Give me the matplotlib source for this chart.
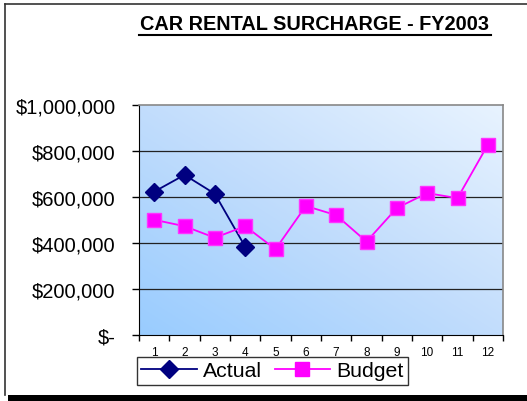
import numpy as np
import matplotlib
matplotlib.use("Agg")
import matplotlib.pyplot as plt
from matplotlib.colors import LinearSegmentedColormap
from matplotlib.patches import Rectangle
from matplotlib.lines import Line2D
from matplotlib.ticker import FuncFormatter, FixedLocator

plt.rcParams['font.family'] = ['Liberation Sans', 'DejaVu Sans']

title = "CAR RENTAL SURCHARGE - FY2003"
months = [1, 2, 3, 4, 5, 6, 7, 8, 9, 10, 11, 12]
actual = [623000, 696000, 614000, 384000]
budget = [501000, 473000, 423000, 473000, 373000, 561000, 521000, 406000,
          552000, 617000, 595000, 827000]
yticks = [0, 200000, 400000, 600000, 800000, 1000000]

W, H = 527, 402
fig = plt.figure(figsize=(W / 100, H / 100), dpi=100)
fig.patch.set_facecolor('white')

ax = fig.add_axes([139 / W, 1 - 336 / H, (503 - 139) / W, (336 - 106) / H])

# gradient background
nx, ny = 200, 200
xs = np.linspace(0, 1, nx)
ys = np.linspace(0, 1, ny)
X, Y = np.meshgrid(xs, ys)
G = (X + Y) / 2
cmap = LinearSegmentedColormap.from_list('g', ['#99ccff', '#c2ddfc', '#e8f3ff'])
ax.imshow(G, cmap=cmap, extent=[0.5, 12.5, 0, 1000000], origin='lower',
          aspect='auto', zorder=0, interpolation='bilinear')

ax.set_xlim(0.5, 12.5)
ax.set_ylim(0, 1000000)

for v in yticks[1:-1]:
    ax.axhline(v, color='#222222', lw=0.9, zorder=1)

ax.plot(months[:len(actual)], actual, color='#000080', lw=1.3, marker='D',
        markersize=9, markerfacecolor='#000080', markeredgecolor='#000080',
        zorder=3, clip_on=False)
ax.plot(months, budget, color='#ff00ff', lw=1.3, marker='s',
        markersize=10.5, markerfacecolor='#ff00ff', markeredgecolor='#ff33ff',
        zorder=4, clip_on=False)

ax.yaxis.set_major_locator(FixedLocator(yticks))
def fmt(v, p):
    if v == 0:
        return '$-'
    return '${:,.0f}'.format(v)
ax.yaxis.set_major_formatter(FuncFormatter(fmt))
ax.tick_params(axis='y', labelsize=14.5, length=5, width=1, direction='out',
               pad=12, colors='black')

ax.set_xticks(months)
ax.set_xticklabels([str(m) for m in months])
ax.set_xticks(np.arange(0.5, 13, 1), minor=True)
ax.tick_params(axis='x', which='major', length=0, labelsize=8.5, pad=8)
ax.tick_params(axis='x', which='minor', length=4, width=1, direction='out')

for s in ['top', 'right']:
    ax.spines[s].set_color('#888888')
    ax.spines[s].set_linewidth(1.2)
ax.spines['left'].set_color('black')
ax.spines['bottom'].set_color('black')

fig.text(314 / W, 1 - 25 / H, title, ha='center', va='center',
         fontsize=14.3, fontweight='bold')
# underline
fig.add_artist(Line2D([139 / W, 491 / W], [1 - 35.5 / H, 1 - 35.5 / H],
                      color='black', lw=1.5))

handles = [Line2D([], [], color='#000080', lw=1.3, marker='D', markersize=9,
                  markerfacecolor='#000080'),
           Line2D([], [], color='#ff00ff', lw=1.3, marker='s', markersize=9.5,
                  markerfacecolor='#ff00ff')]
leg = fig.legend(handles, ['Actual', 'Budget'], loc='upper left',
                 bbox_to_anchor=(137 / W, 1 - 358 / H), ncol=2, fontsize=15.3,
                 frameon=True, fancybox=False, edgecolor='black',
                 borderpad=0.2, handlelength=2.6, columnspacing=0.6,
                 handletextpad=0.3, borderaxespad=0)
leg.get_frame().set_linewidth(1)

# figure frame
fig.add_artist(Line2D([5 / W, 5 / W], [1 - 396 / H, 1 - 5 / H], color='#333333', lw=1.2))
fig.add_artist(Line2D([5 / W, 1.0], [1 - 5 / H, 1 - 5 / H], color='#333333', lw=1.2))
fig.add_artist(Rectangle((8 / W, 0), 1 - 8 / W, 6.5 / H, transform=fig.transFigure,
                         facecolor='black', edgecolor='none', zorder=10))

fig.savefig('out.png', dpi=100)
